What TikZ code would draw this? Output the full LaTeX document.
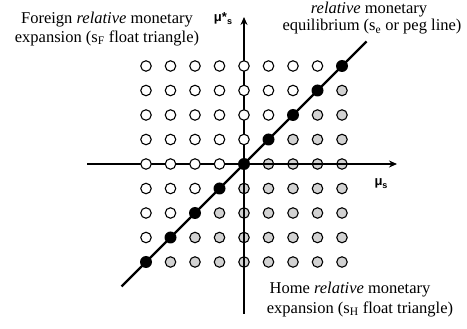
\documentclass[tikz,border=0pt]{standalone}
\usepackage{fontspec}
\setmainfont{Liberation Serif}
\newfontfamily\labfont{Liberation Sans}
\usetikzlibrary{arrows.meta}
\definecolor{dotgray}{RGB}{210,210,210}
\tikzset{
  axisline/.style={line width=2pt,-{Stealth[length=8pt,width=7pt]}},
  pegline/.style={line width=2.4pt},
  whitedot/.style={circle,draw=black,fill=white,line width=1.1pt,minimum size=10.5pt,inner sep=0pt},
  graydot/.style={circle,draw=black,fill=dotgray,line width=1.1pt,minimum size=10.5pt,inner sep=0pt},
  blackdot/.style={circle,fill=black,minimum size=12pt,inner sep=0pt},
  caption/.style={font=\fontsize{16.5}{18}\selectfont,inner sep=0pt,align=center},
  axlabel/.style={font=\labfont\bfseries\fontsize{13}{14}\selectfont,inner sep=0pt}
}
\begin{document}
\begin{tikzpicture}[x=1pt,y=-1pt]
\useasboundingbox (0,0) rectangle (467,329);
\coordinate (O) at (244,164);
\coordinate (xl) at (87,164);
\coordinate (xr) at (397,164);
\coordinate (yb) at (244,314);
\coordinate (yt) at (244,17);
\coordinate (dl) at (121.5,286.5);
\coordinate (du) at (366.5,41.5);
% gray dots (below the axes)
\foreach \i in {-4,...,4}{
  \foreach \j in {-4,...,4}{
    \ifnum\i>\j
      \node[graydot] (g\i\j) at (244+24.5*\i,164-24.5*\j) {};
    \fi
  }
}
% axes
\draw[axisline] (xl) -- (xr);
\draw[axisline] (yb) -- (yt);
% white dots
\foreach \i in {-4,...,4}{
  \foreach \j in {-4,...,4}{
    \ifnum\i<\j
      \node[whitedot] (w\i\j) at (244+24.5*\i,164-24.5*\j) {};
    \fi
  }
}
% peg line
\draw[pegline] (dl) -- (du);
\foreach \i in {-4,...,4}{
  \node[blackdot] (b\i) at (244+24.5*\i,164-24.5*\i) {};
}
% labels
\node[axlabel] (muy) at (223,19) {μ*\raisebox{-3pt}{\fontsize{9}{9}\selectfont s}};
\node[axlabel] (mux) at (381,184) {μ\raisebox{-3pt}{\fontsize{9}{9}\selectfont s}};
\node[caption] (fl1) at (107,20) {Foreign \textit{relative} monetary};
\node[caption] (fl2) at (107,38) {expansion (s\textsubscript{F} float triangle)};
\node[caption] (el1) at (369,10) {\textit{relative} monetary};
\node[caption] (el2) at (372,27) {equilibrium (s\textsubscript{e} or peg line)};
\node[caption] (hl1) at (350,290) {Home \textit{relative} monetary};
\node[caption] (hl2) at (360,309) {expansion (s\textsubscript{H} float triangle)};
\end{tikzpicture}
\end{document}
